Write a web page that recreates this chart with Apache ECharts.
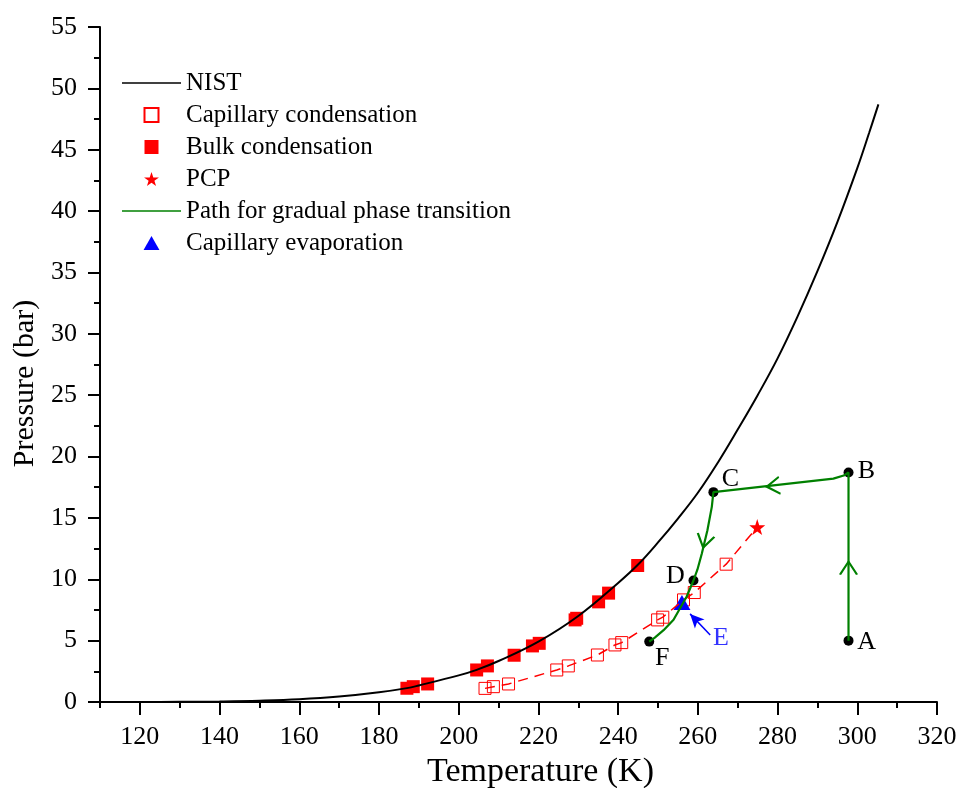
<!DOCTYPE html>
<html>
<head>
<meta charset="utf-8">
<title>Pressure vs Temperature</title>
<script src="https://cdn.jsdelivr.net/npm/echarts@6/dist/echarts.min.js"></script>
<style>
  html, body { margin: 0; padding: 0; background: #fff; }
  #main { width: 961px; height: 788px; }
</style>
</head>
<body>
<div id="main"></div>
<script>
// NIST saturation curve
var nistT = [110, 120, 130, 140, 150, 160, 170, 180, 187, 190, 200, 204.5, 210, 220, 230, 240, 245, 250, 255, 260, 265, 270, 275, 280, 285, 290, 295, 300, 303, 305.3];
var nistP = [0.001, 0.005, 0.016, 0.045, 0.105, 0.22, 0.44, 0.79, 1.13, 1.35, 2.17, 2.62, 3.34, 4.92, 7.01, 9.7, 11.2, 13.0, 14.95, 17.05, 19.5, 22.2, 25.0, 28.0, 31.4, 35.1, 39.1, 43.5, 46.4, 48.7];

// measured points
var bulkT = [187.0, 188.6, 192.2, 204.5, 207.2, 213.9, 218.5, 220.2, 229.2, 229.6, 235.1, 237.6, 244.9];
var bulkP = [1.12, 1.25, 1.47, 2.61, 2.94, 3.81, 4.57, 4.78, 6.69, 6.82, 8.16, 8.87, 11.12];
var capT = [206.6, 208.7, 212.5, 224.6, 227.5, 234.8, 239.2, 240.9, 249.9, 251.2, 256.4, 259.1, 267.1];
var capP = [1.11, 1.25, 1.47, 2.61, 2.94, 3.83, 4.65, 4.84, 6.69, 6.91, 8.32, 8.92, 11.23];
var pcpT = [274.9];
var pcpP = [14.25];
var evapT = [256.0];
var evapP = [8.1];

// path A -> B -> C -> D -> E -> F
var pathT = [297.8, 297.8, 296.6, 294.0, 263.9, 263.5, 262.4, 261.0, 259.9, 258.9, 257.2, 256.0, 253.9, 251.4, 249.2, 247.8];
var pathP = [5.0, 18.7, 18.45, 18.2, 17.1, 15.9, 14.0, 12.1, 10.8, 9.9, 8.6, 7.9, 6.7, 5.85, 5.25, 4.92];
var pointNames = ['A', 'B', 'C', 'D', 'F'];
var pointT = [297.8, 297.8, 263.9, 258.9, 247.8];
var pointP = [5.0, 18.7, 17.1, 9.9, 4.92];
var arrowT = [297.8, 278.9, 261.7];
var arrowP = [10.9, 17.6, 13.1];

var xTicks = [120, 140, 160, 180, 200, 220, 240, 260, 280, 300, 320];

var serif = '"Liberation Serif", "Times New Roman", serif';
var green = '#008000';

function pairs(xs, ys) {
    return xs.map(function (x, i) { return [x, ys[i]]; });
}

var labelOffsets = { A: [18, 2], B: [18, -1], C: [17, -13], D: [-18, -4], F: [13, 17] };
var arrowRotate = [0, 96, 167];
var starPath = 'path://M50,0 L61.8,35.1 L98.1,35.1 L68.8,56.7 L79.4,90.5 L50,69.8 L20.6,90.5 L31.2,56.7 L1.9,35.1 L38.2,35.1 Z';
var squarePath = 'path://M0,0 H10 V10 H0 Z';
var trianglePath = 'path://M8.5,0 L17,15 L0,15 Z';
var linePath = 'path://M0,0 H80 V2 H0 Z';

var myChart = echarts.init(document.getElementById('main'));
var option = {
    animation: false,
    backgroundColor: '#fff',
    grid: { left: 100, right: 24, top: 27, bottom: 86, outerBoundsMode: 'none' },
    legend: {
        data: [
            { name: 'NIST', icon: linePath },
            { name: 'Capillary condensation', icon: squarePath },
            { name: 'Bulk condensation', icon: squarePath },
            { name: 'PCP', icon: starPath },
            { name: 'Path for gradual phase transition', icon: linePath },
            { name: 'Capillary evaporation', icon: trianglePath }
        ],
        orient: 'vertical',
        left: 117,
        top: 65,
        padding: 5,
        itemWidth: 59,
        itemHeight: 14,
        itemGap: 6,
        symbolKeepAspect: true,
        selectedMode: false,
        textStyle: { fontFamily: serif, fontSize: 25, lineHeight: 26, color: '#000' }
    },
    xAxis: [
        {   // minor ticks every 10
            type: 'value', min: 110, max: 320, interval: 10, position: 'bottom',
            axisLine: { show: true, onZero: false, lineStyle: { color: '#000', width: 2 } },
            axisTick: { show: true, length: 6, lineStyle: { color: '#000', width: 2 } },
            axisLabel: { show: false },
            splitLine: { show: false }
        },
        {   // major ticks + labels
            type: 'value', min: 110, max: 320, position: 'bottom',
            axisLine: { show: false },
            axisTick: { show: true, customValues: xTicks, length: 13, lineStyle: { color: '#000', width: 2 } },
            axisLabel: { customValues: xTicks, fontFamily: serif, fontSize: 26, color: '#000', margin: 22 },
            splitLine: { show: false },
            name: 'Temperature (K)',
            nameLocation: 'middle',
            nameGap: 49,
            nameTextStyle: { fontFamily: serif, fontSize: 34, color: '#000', padding: [0, 0, 0, 44] }
        }
    ],
    yAxis: {
        type: 'value', min: 0, max: 55, interval: 5,
        axisLine: { show: true, onZero: false, lineStyle: { color: '#000', width: 2 } },
        axisTick: { show: true, length: 12, lineStyle: { color: '#000', width: 2 } },
        minorTick: { show: true, splitNumber: 2, length: 6, lineStyle: { color: '#000', width: 2 } },
        axisLabel: { fontFamily: serif, fontSize: 26, color: '#000', margin: 23 },
        splitLine: { show: false },
        minorSplitLine: { show: false },
        name: 'Pressure (bar)',
        nameLocation: 'middle',
        nameGap: 56,
        nameTextStyle: { fontFamily: serif, fontSize: 30, color: '#000', padding: [0, 38, 0, 0] }
    },
    series: [
        {
            name: 'NIST', type: 'line', data: pairs(nistT, nistP),
            symbol: 'none', smooth: 0.4,
            lineStyle: { color: '#000', width: 2 }, itemStyle: { color: '#000' }
        },
        {
            name: 'capLine', type: 'line', data: pairs(capT.concat(pcpT), capP.concat(pcpP)),
            symbol: 'none',
            lineStyle: { color: '#ff0000', width: 1.5, type: [10, 7] }
        },
        {
            name: 'Capillary condensation', type: 'scatter', data: pairs(capT, capP),
            symbol: 'rect', symbolSize: 12,
            itemStyle: { color: 'rgba(255,255,255,0)', borderColor: '#ff0000', borderWidth: 1, opacity: 1 }
        },
        {
            name: 'Bulk condensation', type: 'scatter', data: pairs(bulkT, bulkP),
            symbol: 'rect', symbolSize: 13,
            itemStyle: { color: '#ff0000', opacity: 1 }
        },
        {
            name: 'PCP', type: 'scatter', data: pairs(pcpT, pcpP),
            symbol: starPath, symbolSize: 16,
            itemStyle: { color: '#ff0000', opacity: 1 }
        },
        {
            name: 'Path for gradual phase transition', type: 'line', data: pairs(pathT, pathP),
            symbol: 'none',
            lineStyle: { color: green, width: 2.2 }, itemStyle: { color: green }
        },
        {
            name: 'Capillary evaporation', type: 'scatter', data: pairs(evapT, evapP),
            symbol: 'triangle', symbolSize: [17, 15],
            itemStyle: { color: '#0000ff', opacity: 1 },
            markLine: {
                silent: true,
                symbol: ['none', 'arrow'],
                symbolSize: [10, 14],
                label: { show: false },
                lineStyle: { color: '#0000ff', width: 1.5, type: 'solid', opacity: 1 },
                data: [[{ coord: [263.1, 5.46] }, { coord: [258.05, 7.18] }]]
            }
        },
        {
            name: 'points', type: 'scatter', symbol: 'circle', symbolSize: 10,
            itemStyle: { color: '#000', opacity: 1 },
            data: pointNames.map(function (n, i) {
                return {
                    value: [pointT[i], pointP[i]],
                    label: { show: true, formatter: n, position: 'inside', offset: labelOffsets[n],
                             fontFamily: serif, fontSize: 26, color: '#000' }
                };
            })
        },
        {
            name: 'labelE', type: 'scatter', symbolSize: 1,
            itemStyle: { color: 'rgba(0,0,0,0)' },
            data: [{
                value: [265.8, 5.2],
                label: { show: true, formatter: 'E', position: 'inside',
                         fontFamily: serif, fontSize: 26, color: '#0000ff' }
            }]
        },
        {
            name: 'arrows', type: 'scatter',
            symbol: 'path://M0,13 L8.5,0 L17,13', symbolSize: [17, 13],
            itemStyle: { color: 'rgba(0,0,0,0)', borderColor: green, borderWidth: 2, opacity: 1 },
            data: arrowT.map(function (t, i) {
                return { value: [t, arrowP[i]], symbolRotate: arrowRotate[i] };
            })
        }
    ]
};
myChart.setOption(option);
window.onresize = myChart.resize;
</script>
</body>
</html>
